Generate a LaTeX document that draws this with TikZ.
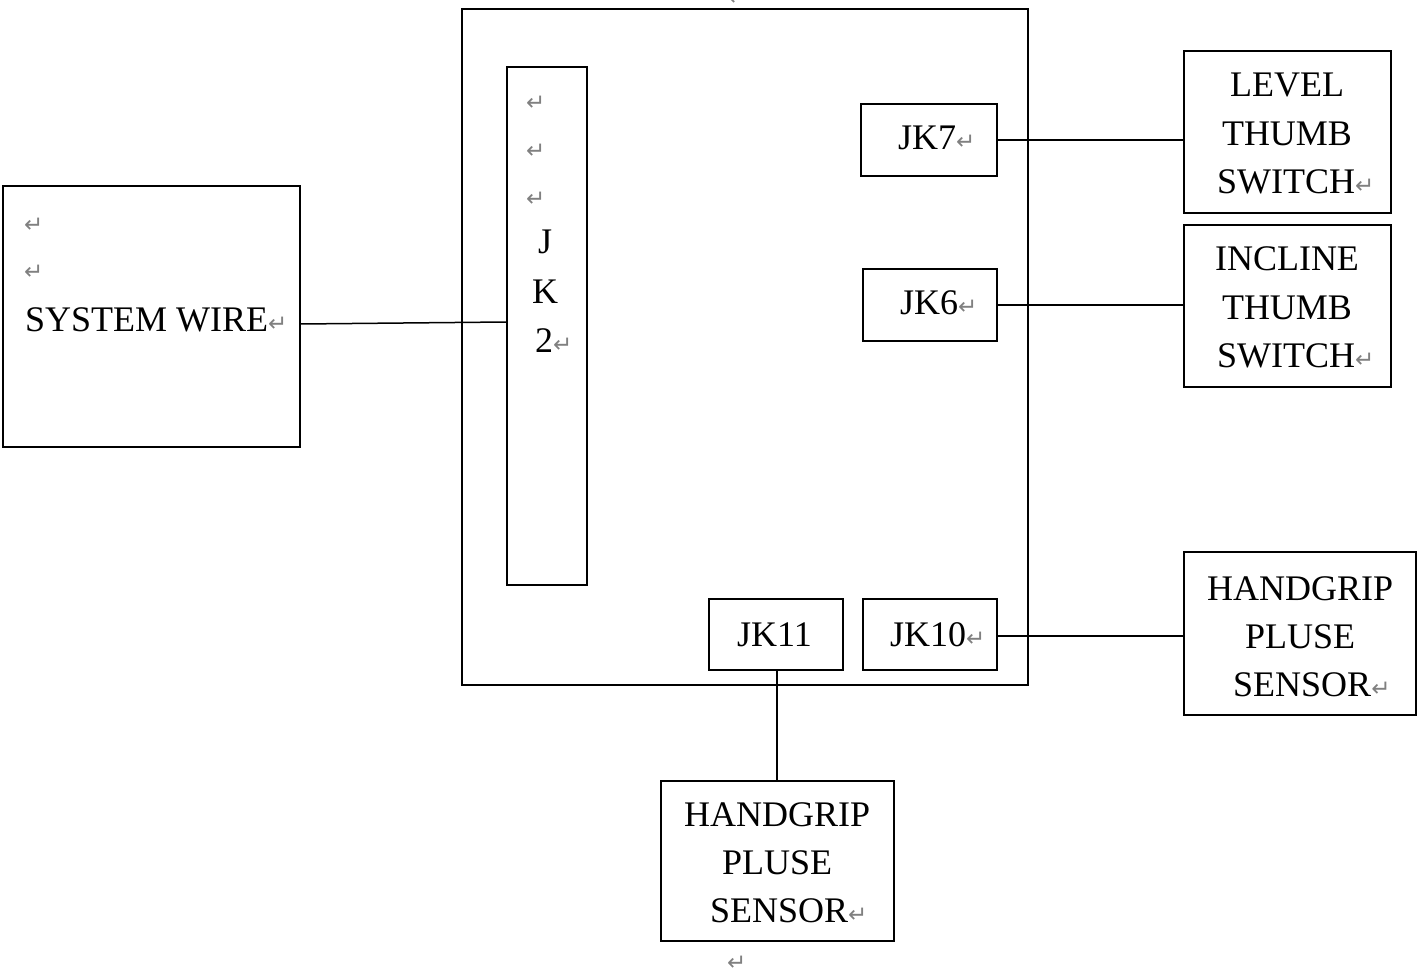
\documentclass[tikz,border=0pt]{standalone}
\usepackage{fontspec}
\setmainfont{Liberation Serif}
\newfontfamily\dvfont{DejaVu Sans}
\newcommand{\parmark}{{\dvfont\color{gray}\fontsize{23}{23}\selectfont ↵}}
\begin{document}
\begin{tikzpicture}[x=1pt,y=-1pt,
  box/.style={draw,line width=1.5pt,rectangle,inner sep=0pt},
  wire/.style={line width=1.5pt},
  lbl/.style={inner sep=0pt,font=\fontsize{36}{48}\selectfont}]
\useasboundingbox (0,0) rectangle (1417,976);
% boxes
\node[box,minimum width=566pt,minimum height=676pt] (board) at (745,347) {};
\node[box,minimum width=297pt,minimum height=261pt] (sys) at (151.5,316.5) {};
\node[box,minimum width=80pt,minimum height=518pt] (jk2) at (547,326) {};
\node[box,minimum width=136pt,minimum height=72pt] (jk7) at (929,140) {};
\node[box,minimum width=134pt,minimum height=72pt] (jk6) at (930,305) {};
\node[box,minimum width=134pt,minimum height=71pt] (jk11) at (776,634.5) {};
\node[box,minimum width=134pt,minimum height=71pt] (jk10) at (930,634.5) {};
\node[box,minimum width=207pt,minimum height=162pt] (level) at (1287.5,132) {};
\node[box,minimum width=207pt,minimum height=162pt] (incl) at (1287.5,306) {};
\node[box,minimum width=232pt,minimum height=163pt] (hgr) at (1300,633.5) {};
\node[box,minimum width=233pt,minimum height=160pt] (hgb) at (777.5,861) {};
% connectors
\draw[wire] ([yshift=-7.5pt]sys.east) -- ([yshift=4pt]jk2.west);
\draw[wire] (jk7.east) -- (jk7.east -| level.west);
\draw[wire] (jk6.east) -- (jk6.east -| incl.west);
\draw[wire] ([yshift=-1.5pt]jk10.east) -- ([yshift=-1.5pt]jk10.east -| hgr.west);
\draw[wire] ([xshift=1pt]jk11.south) -- ([xshift=1pt]jk11.south |- hgb.north);
% texts: system wire
\node[lbl,anchor=base west] (s1) at (24,233) {\parmark};
\node[lbl,anchor=base west] (s2) at (24,280) {\parmark};
\node[lbl,anchor=base west] (s3) at (25,332) {SYSTEM WIRE\parmark};
% JK2
\node[lbl,anchor=base west] (j1) at (526,111) {\parmark};
\node[lbl,anchor=base west] (j2) at (526,159) {\parmark};
\node[lbl,anchor=base west] (j3) at (526,207) {\parmark};
\node[lbl,anchor=base] (j4) at (545,254) {J};
\node[lbl,anchor=base] (j5) at (545,304) {K};
\node[lbl,anchor=base west] (j6) at (535,353) {2\parmark};
% jacks
\node[lbl,anchor=base west] (k7) at (898,150) {JK7\parmark};
\node[lbl,anchor=base west] (k6) at (900,315) {JK6\parmark};
\node[lbl,anchor=base west] (k11) at (737,646) {JK11};
\node[lbl,anchor=base west] (k10) at (890,646) {JK10\parmark};
% level
\node[lbl,anchor=base] (l1) at (1287,97) {LEVEL};
\node[lbl,anchor=base] (l2) at (1287,146) {THUMB};
\node[lbl,anchor=base west] (l3) at (1217,194) {SWITCH\parmark};
% incline
\node[lbl,anchor=base] (i1) at (1287,271) {INCLINE};
\node[lbl,anchor=base] (i2) at (1287,320) {THUMB};
\node[lbl,anchor=base west] (i3) at (1217,367) {SWITCH\parmark};
% handgrip right
\node[lbl,anchor=base west] (h1) at (1207,600) {HANDGRIP};
\node[lbl,anchor=base west] (h2) at (1245,648) {PLUSE};
\node[lbl,anchor=base west] (h3) at (1233,696) {SENSOR\parmark};
% handgrip bottom
\node[lbl,anchor=base west] (b1) at (684,826) {HANDGRIP};
\node[lbl,anchor=base west] (b2) at (722,874) {PLUSE};
\node[lbl,anchor=base west] (b3) at (710,922) {SENSOR\parmark};
% stray marks
\node[lbl,anchor=base west] (m1) at (727,970) {\parmark};
\node[lbl,anchor=base west] (m2) at (728,6) {\parmark};
\end{tikzpicture}
\end{document}
